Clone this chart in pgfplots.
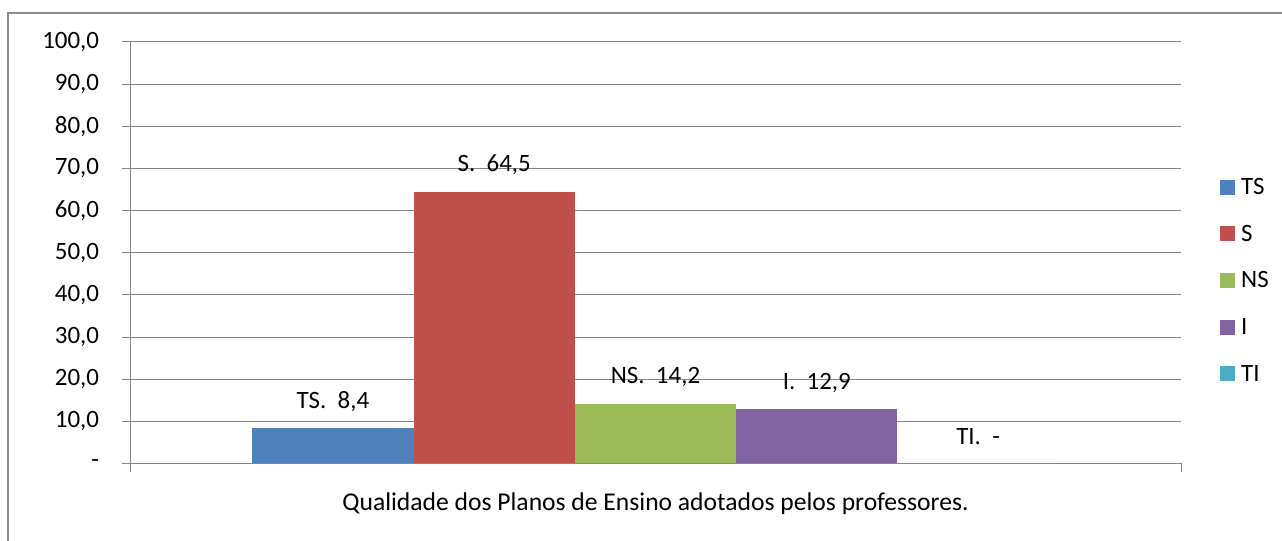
\documentclass[border=0pt]{standalone}
\usepackage{pgfplots}
\pgfplotsset{compat=1.18}
\usepackage{fontspec}
\setmainfont{Carlito}
\definecolor{cTS}{HTML}{4F81BD}
\definecolor{cS}{HTML}{C0504D}
\definecolor{cNS}{HTML}{9BBB59}
\definecolor{cI}{HTML}{8064A2}
\definecolor{cTI}{HTML}{4BACC6}
\definecolor{gridc}{HTML}{868686}
\definecolor{framec}{HTML}{8C8C8C}
\begin{document}
\begin{tikzpicture}[font=\fontsize{18.7}{22}\selectfont]
\useasboundingbox (0,0) rectangle (961.5pt,-405.75pt);
\draw[framec, line width=1.5pt] (6pt,-410pt) -- (6pt,-9.75pt) -- (965pt,-9.75pt);
\begin{axis}[
  at={(97.5pt,-347.625pt)}, anchor=south west,
  scale only axis,
  width=788.25pt, height=316.125pt,
  xmin=-0.5, xmax=0.5, ymin=0, ymax=100,
  axis x line=bottom, axis y line=left,
  axis line style={-, gridc, line width=0.75pt},
  ytick={0,10,...,100},
  yticklabels={-,{10,0},{20,0},{30,0},{40,0},{50,0},{60,0},{70,0},{80,0},{90,0},{100,0}},
  xtick={-0.5,0.5}, xticklabels={,},
  tick align=outside,
  major tick length=6pt,
  tick style={gridc, line width=0.75pt},
  ymajorgrids, grid style={gridc, line width=0.75pt},
  yticklabel style={anchor=east, inner sep=0pt, xshift=-17pt},
  xlabel={Qualidade dos Planos de Ensino adotados pelos professores.},
  xlabel style={at={(axis description cs:0.5,0)}, anchor=center, yshift=-30.5pt, inner sep=0pt,
    font=\fontsize{19.2}{22}\selectfont},
  ybar, bar width=0.15347, bar shift=0pt,
  every node near coord/.append style={anchor=center, yshift=19.9pt, inner sep=0pt, text=black},
  legend style={at={(axis description cs:1.037,0.678)}, anchor=north west, draw=none, fill=none,
    inner sep=0pt, row sep=22.5pt, font=\fontsize{18.7}{22}\selectfont,
    nodes={inner sep=0pt, text height=12.5pt, text depth=0pt}},
  legend cell align=left,
  legend image code/.code={\fill[#1] (0pt,-6.25pt) rectangle (11.25pt,5pt);},
  /tikz/every odd column/.style={column sep=4.5pt},
]
\addplot[fill=cTS, draw=none, nodes near coords={TS.\ \ 8,4}] coordinates {(-0.30694,8.4)};
\addlegendentry{TS}
\addplot[fill=cS, draw=none, nodes near coords={S.\ \ 64,5}] coordinates {(-0.15347,64.5)};
\addlegendentry{S}
\addplot[fill=cNS, draw=none, nodes near coords={NS.\ \ 14,2}] coordinates {(0,14.2)};
\addlegendentry{NS}
\addplot[fill=cI, draw=none, nodes near coords={I.\ \ 12,9}] coordinates {(0.15347,12.9)};
\addlegendentry{I}
\addplot[fill=cTI, draw=none, nodes near coords={TI.\ \ -}] coordinates {(0.30694,0)};
\addlegendentry{TI}
\end{axis}
\end{tikzpicture}
\end{document}
